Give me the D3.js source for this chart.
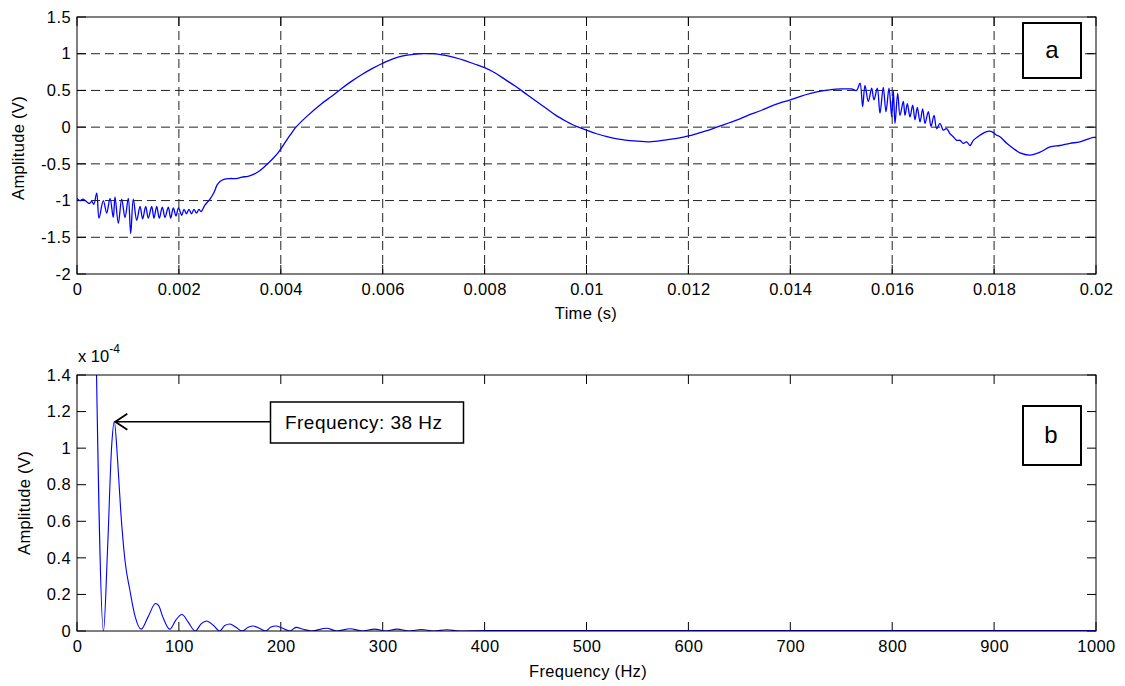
<!DOCTYPE html>
<html><head><meta charset="utf-8">
<script src="https://cdn.jsdelivr.net/npm/d3@7"></script>
<style>
body{margin:0;background:#fff;}
text{font-family:"Liberation Sans",Arial,sans-serif;}
</style></head>
<body><svg id="c" width="1125" height="686"></svg>
<script>
// ---- Data: time signal (s, V) ----
const timeS = [0,0.00006,0.00012,0.00018,0.00024,0.00029,0.00033,
0.000387,0.000432,0.000516,0.000583,0.000648,0.000712,0.000746,0.000811,0.000877,0.000942,0.001007,0.001054,0.001105,0.001172,0.001237,0.001289,0.001348,0.001399,0.001466,0.001511,0.001564,0.001615,0.001674,0.001727,0.001792,0.001839,0.00189,0.001943,0.001992,0.002055,0.0021,0.002149,0.002198,0.002247,0.002296,0.002345,0.002394,0.002434,
0.002512,0.00261,0.002689,0.002748,0.002807,0.002885,0.003003,0.003121,0.003238,0.003356,0.003474,0.003592,0.003709,0.003827,0.003945,0.004063,0.004181,0.004298,
0.0045,0.0048,0.005,0.0052,0.0054,0.0056,0.0058,0.006,0.0062,0.0064,0.0066,0.0068,0.007,0.0072,0.0074,0.0076,0.0078,0.008,0.0082,0.0084,0.0086,0.0088,0.009,0.0092,0.0094,0.0096,0.0098,0.01,0.0102,0.0104,0.0106,0.0108,0.011,0.0112,0.0114,0.0116,0.0118,0.012,0.0122,0.0124,0.0126,0.0128,0.013,0.0132,0.0134,0.0136,0.0138,0.014,0.0142,0.0144,0.0146,0.0148,0.015,0.0152,0.0153,
0.015368,0.01542,0.015466,0.015531,0.015597,0.015642,0.015708,0.01576,0.015825,0.015878,0.015937,0.01599,0.016022,0.016055,0.016108,0.016153,0.016218,0.016251,0.016297,0.016349,0.016402,0.016447,0.016493,0.016546,0.016598,0.016644,0.016709,0.016762,0.016821,0.016873,0.016938,0.017003,0.017069,0.017134,0.017199,0.017266,0.017331,0.017396,0.017462,0.017527,0.017592,0.017723,0.017854,0.017953,0.018051,0.018116,0.018247,0.018377,0.018508,0.018705,0.018901,0.019097,0.019293,0.01949,0.019686,0.019948,0.02];
const timeV = [-0.97,-1.0,-0.98,-1.01,-1.04,-1.01,-1.05,
-0.90,-1.24,-1.00,-1.17,-0.97,-1.23,-0.95,-1.31,-0.98,-1.23,-0.97,-1.45,-0.98,-1.27,-1.08,-1.25,-1.08,-1.24,-1.08,-1.24,-1.08,-1.24,-1.09,-1.23,-1.09,-1.24,-1.10,-1.21,-1.10,-1.20,-1.12,-1.18,-1.12,-1.18,-1.12,-1.17,-1.12,-1.15,
-1.06,-0.98,-0.89,-0.79,-0.74,-0.71,-0.70,-0.70,-0.68,-0.67,-0.64,-0.59,-0.52,-0.44,-0.35,-0.23,-0.11,0.0,
0.14,0.32,0.42,0.53,0.63,0.72,0.80,0.87,0.93,0.97,0.99,1.0,1.0,0.98,0.95,0.91,0.86,0.81,0.74,0.65,0.56,0.46,0.36,0.26,0.16,0.08,0.01,-0.04,-0.09,-0.13,-0.16,-0.18,-0.19,-0.20,-0.19,-0.17,-0.15,-0.12,-0.08,-0.04,0.01,0.06,0.11,0.17,0.22,0.28,0.33,0.37,0.42,0.46,0.49,0.51,0.52,0.52,0.50,
0.60,0.28,0.57,0.35,0.53,0.37,0.53,0.19,0.54,0.21,0.53,0.14,0.50,0.05,0.46,0.16,0.35,0.16,0.32,0.14,0.30,0.10,0.27,0.07,0.25,0.05,0.21,0.01,0.16,-0.02,0.05,-0.04,-0.02,-0.09,-0.13,-0.18,-0.18,-0.22,-0.20,-0.25,-0.18,-0.11,-0.06,-0.06,-0.11,-0.13,-0.22,-0.29,-0.35,-0.38,-0.34,-0.27,-0.25,-0.22,-0.20,-0.14,-0.14];

// ---- Data: spectrum (Hz, x1e-4 V) ----
const freqHz = [0,13,26,30,34,36.6,40,43,47,52,57,63,70,77,80,84,91,97,103,109,116,122,127,134,140,145,150,156,162,168,173,179,185,190,195,202,209,215,222,230,245,255,268,280,292,303,314,326,338,350,363,375,400,500,600,700,800,900,1000];
const freqAmp = [6.7,3.4,0.0,0.45,1.01,1.145,0.92,0.65,0.39,0.22,0.08,0.01,0.08,0.15,0.14,0.08,0.01,0.06,0.09,0.05,0.0,0.04,0.055,0.03,0.0,0.03,0.038,0.02,0.0,0.02,0.027,0.015,0.0,0.02,0.027,0.015,0.0,0.02,0.01,0.0,0.015,0.0,0.012,0.0,0.01,0.0,0.01,0.0,0.008,0.0,0.007,0.0,0.003,0.003,0.003,0.003,0.003,0.003,0.003];

const timeTicks = [0,0.002,0.004,0.006,0.008,0.01,0.012,0.014,0.016,0.018,0.02];
const timeTickLabels = ["0","0.002","0.004","0.006","0.008","0.01","0.012","0.014","0.016","0.018","0.02"];
const ampTicks = [-2,-1.5,-1,-0.5,0,0.5,1,1.5];
const ampTickLabels = ["-2","-1.5","-1","-0.5","0","0.5","1","1.5"];
const freqTicks = [0,100,200,300,400,500,600,700,800,900,1000];
const specTicks = [0,0.2,0.4,0.6,0.8,1,1.2,1.4];
const specTickLabels = ["0","0.2","0.4","0.6","0.8","1","1.2","1.4"];

const svg = d3.select("#c");
const L = 77, R = 1096;
const blue = "#0000ff";
const FS = 16.5;

function panel(top, bottom, xDom, yDom, xT, xTL, yT, yTL, grid, id){
  const x = d3.scaleLinear().domain(xDom).range([L,R]);
  const y = d3.scaleLinear().domain(yDom).range([bottom,top]);
  const g = svg.append("g");
  if(grid){
    g.selectAll(".gx").data(xT.slice(1,-1)).enter().append("line")
      .attr("x1",d=>x(d)).attr("x2",d=>x(d)).attr("y1",top).attr("y2",bottom)
      .attr("stroke","#222").attr("stroke-dasharray","9,5").attr("stroke-width",1);
    g.selectAll(".gy").data(yT.slice(1,-1)).enter().append("line")
      .attr("y1",d=>y(d)).attr("y2",d=>y(d)).attr("x1",L).attr("x2",R)
      .attr("stroke","#222").attr("stroke-dasharray","9,5").attr("stroke-width",1);
  }
  const tk = 9;
  const ax = d3.axisBottom(x).tickValues(xT).tickFormat((d,i)=>xTL[i]).tickSize(0).tickPadding(9);
  const gb = g.append("g").attr("transform",`translate(0,${bottom})`).call(ax);
  gb.select(".domain").remove();
  gb.selectAll("text").attr("font-size",FS).attr("fill","#000").attr("letter-spacing",0.4);
  const ay = d3.axisLeft(y).tickValues(yT).tickFormat((d,i)=>yTL[i]).tickSize(0).tickPadding(6);
  const gl = g.append("g").attr("transform",`translate(${L},0)`).call(ay);
  gl.select(".domain").remove();
  gl.selectAll("text").attr("font-size",FS).attr("fill","#000").attr("letter-spacing",0.4);
  xT.forEach(d=>{
    g.append("line").attr("x1",x(d)).attr("x2",x(d)).attr("y1",bottom).attr("y2",bottom-tk).attr("stroke","#000");
    g.append("line").attr("x1",x(d)).attr("x2",x(d)).attr("y1",top).attr("y2",top+tk).attr("stroke","#000");
  });
  yT.forEach(d=>{
    g.append("line").attr("y1",y(d)).attr("y2",y(d)).attr("x1",L).attr("x2",L+tk).attr("stroke","#000");
    g.append("line").attr("y1",y(d)).attr("y2",y(d)).attr("x1",R).attr("x2",R-tk).attr("stroke","#000");
  });
  svg.append("clipPath").attr("id",id).append("rect").attr("x",L).attr("y",top).attr("width",R-L).attr("height",bottom-top);
  return {x,y,g};
}

// Top panel
const p1 = panel(17,274,[0,0.02],[-2,1.5],timeTicks,timeTickLabels,ampTicks,ampTickLabels,true,"clip1");
p1.g.append("path").datum(timeS.map((t,i)=>[t,timeV[i]]))
  .attr("clip-path","url(#clip1)")
  .attr("d",d3.line().curve(d3.curveCatmullRom.alpha(0.5)).x(d=>p1.x(d[0])).y(d=>p1.y(d[1])))
  .attr("fill","none").attr("stroke",blue).attr("stroke-width",1.3);
p1.g.append("rect").attr("x",L).attr("y",17).attr("width",R-L).attr("height",274-17).attr("fill","none").attr("stroke","#000");
svg.append("text").attr("x",586).attr("y",319).attr("text-anchor","middle").attr("font-size",FS).attr("letter-spacing",0.3).text("Time (s)");
svg.append("text").attr("transform","translate(24,148) rotate(-90)").attr("text-anchor","middle").attr("font-size",FS).attr("letter-spacing",0.3).text("Amplitude (V)");
svg.append("rect").attr("x",1023).attr("y",23).attr("width",58).attr("height",55).attr("fill","#fff").attr("stroke","#000").attr("stroke-width",2);
svg.append("text").attr("x",1052).attr("y",58).attr("text-anchor","middle").attr("font-family","Liberation Serif").attr("font-size",24).text("a");

// Bottom panel
const p2 = panel(375,631,[0,1000],[0,1.4],freqTicks,freqTicks.map(String),specTicks,specTickLabels,false,"clip2");
p2.g.append("path").datum(freqHz.map((f,i)=>[f,freqAmp[i]]))
  .attr("clip-path","url(#clip2)")
  .attr("d",d3.line().curve(d3.curveMonotoneX).x(d=>p2.x(d[0])).y(d=>p2.y(d[1])))
  .attr("fill","none").attr("stroke",blue).attr("stroke-width",1.1);
p2.g.append("rect").attr("x",L).attr("y",375).attr("width",R-L).attr("height",631-375).attr("fill","none").attr("stroke","#000");
svg.append("text").attr("x",588).attr("y",677).attr("text-anchor","middle").attr("font-size",FS).attr("letter-spacing",0.3).text("Frequency (Hz)");
svg.append("text").attr("transform","translate(30,503) rotate(-90)").attr("text-anchor","middle").attr("font-size",FS).attr("letter-spacing",0.3).text("Amplitude (V)");
const ex = svg.append("text").attr("x",78).attr("y",362).attr("font-size",FS);
ex.append("tspan").text("x 10");
ex.append("tspan").attr("dy",-9).attr("font-size",12).text("-4");
svg.append("rect").attr("x",1023).attr("y",406).attr("width",58).attr("height",59).attr("fill","#fff").attr("stroke","#000").attr("stroke-width",2);
svg.append("text").attr("x",1051).attr("y",443).attr("text-anchor","middle").attr("font-family","Liberation Serif").attr("font-size",24).text("b");

// annotation
const peakX = p2.x(36.6), peakY = p2.y(1.145);
svg.append("line").attr("x1",270).attr("x2",peakX+1).attr("y1",peakY).attr("y2",peakY).attr("stroke","#000").attr("stroke-width",1.5);
svg.append("path").attr("d",`M${peakX+13},${peakY-8} L${peakX+1},${peakY} L${peakX+13},${peakY+8}`).attr("fill","none").attr("stroke","#000").attr("stroke-width",1.8);
svg.append("rect").attr("x",270.5).attr("y",402).attr("width",193).attr("height",41).attr("fill","#fff").attr("stroke","#000").attr("stroke-width",1.5);
svg.append("text").attr("x",285).attr("y",429).attr("font-family","Lato, 'Open Sans', sans-serif").attr("font-size",19).attr("textLength",157).attr("lengthAdjust","spacing").text("Frequency: 38 Hz");
</script></body></html>
